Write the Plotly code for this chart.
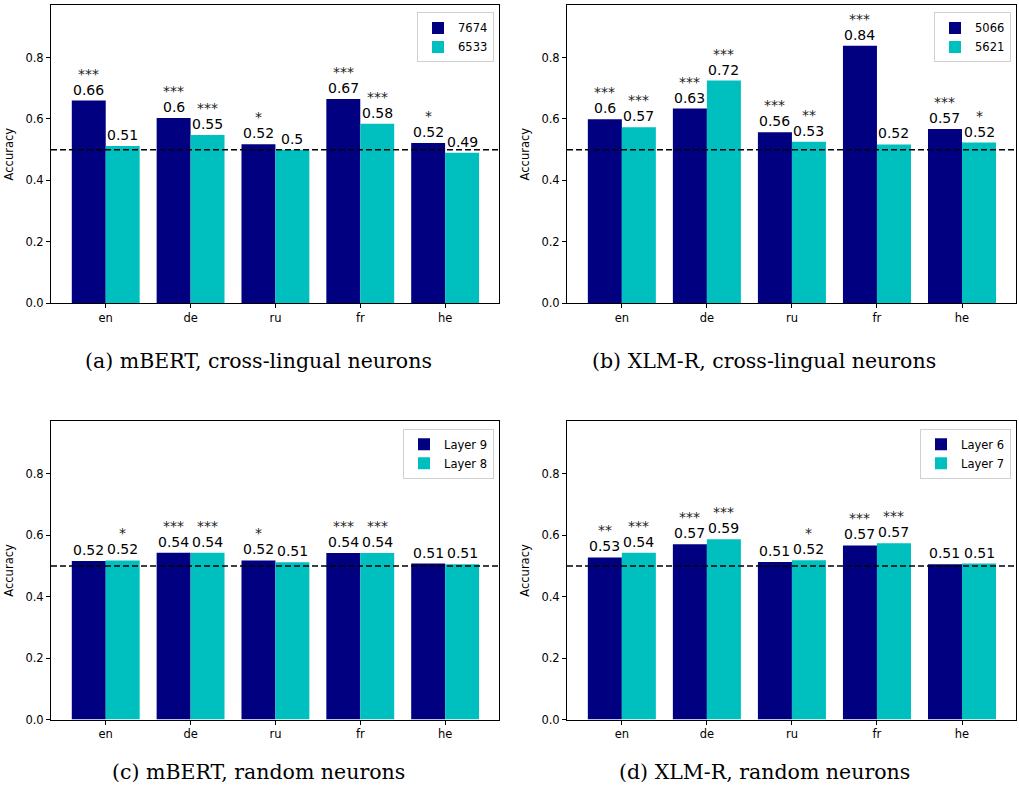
import plotly.graph_objects as go

W, H = 1019, 796

languages = ["en", "de", "ru", "fr", "he"]

# Panel (a) mBERT, cross-lingual neurons
a_names = ["7674", "6533"]
a_vals_1 = [0.660, 0.603, 0.518, 0.665, 0.522]
a_vals_2 = [0.512, 0.548, 0.500, 0.584, 0.490]
a_sig_1 = ["***", "***", "*", "***", "*"]
a_sig_2 = ["", "***", "", "***", ""]

# Panel (b) XLM-R, cross-lingual neurons
b_names = ["5066", "5621"]
b_vals_1 = [0.599, 0.634, 0.557, 0.838, 0.567]
b_vals_2 = [0.573, 0.725, 0.526, 0.517, 0.523]
b_sig_1 = ["***", "***", "***", "***", "***"]
b_sig_2 = ["***", "***", "**", "", "*"]

# Panel (c) mBERT, random neurons
c_names = ["Layer 9", "Layer 8"]
c_vals_1 = [0.516, 0.543, 0.518, 0.542, 0.508]
c_vals_2 = [0.518, 0.543, 0.512, 0.542, 0.506]
c_sig_1 = ["", "***", "*", "***", ""]
c_sig_2 = ["*", "***", "", "***", ""]

# Panel (d) XLM-R, random neurons
d_names = ["Layer 6", "Layer 7"]
d_vals_1 = [0.528, 0.571, 0.513, 0.567, 0.506]
d_vals_2 = [0.543, 0.587, 0.519, 0.574, 0.508]
d_sig_1 = ["**", "***", "", "***", ""]
d_sig_2 = ["***", "***", "*", "***", ""]

captions = ["(a) mBERT, cross-lingual neurons", "(b) XLM-R, cross-lingual neurons",
            "(c) mBERT, random neurons", "(d) XLM-R, random neurons"]

chance = 0.5

panels = [
    (a_names, a_vals_1, a_vals_2, a_sig_1, a_sig_2),
    (b_names, b_vals_1, b_vals_2, b_sig_1, b_sig_2),
    (c_names, c_vals_1, c_vals_2, c_sig_1, c_sig_2),
    (d_names, d_vals_1, d_vals_2, d_sig_1, d_sig_2),
]

NAVY = "#000080"
CYAN = "#00BFBF"

# pixel boxes of the four axes (left, right, top, bottom)
boxes = [(51, 499, 5, 306), (567, 1016, 5, 306),
         (51, 499, 425, 726), (567, 1016, 425, 726)]
cap_x = [258, 764, 258, 764]
cap_y = [364, 364, 779, 779]

fig = go.Figure()
annotations = []
shapes = []
layout = {}

FONT = "DejaVu Sans"

for i, (names, v1, v2, s1, s2) in enumerate(panels):
    n = i + 1
    xa = "x" if n == 1 else f"x{n}"
    ya = "y" if n == 1 else f"y{n}"
    lg = "legend" if n == 1 else f"legend{n}"
    for name, vals, color, sig, off in ((names[0], v1, NAVY, s1, -0.2), (names[1], v2, CYAN, s2, 0.2)):
        fig.add_trace(go.Bar(x=languages, y=vals, name=name, marker_color=color,
                             marker_line_width=0, xaxis=xa, yaxis=ya, legend=lg,
                             offsetgroup=name))
        for k, (lang, v) in enumerate(zip(languages, vals)):
            lab = f"{round(v, 2):g}"
            annotations.append(dict(x=k + off, y=v, xref=xa, yref=ya, text=lab,
                                    showarrow=False, yanchor="bottom", yshift=1,
                                    font=dict(family=FONT, size=14, color="black")))
            if sig[k]:
                annotations.append(dict(x=k + off, y=v, xref=xa, yref=ya, text=sig[k],
                                        showarrow=False, yanchor="bottom", yshift=17,
                                        font=dict(family=FONT, size=14, color="#222222")))
    l, r, t, b = boxes[i]
    xd = [l / W, r / W]
    yd = [1 - b / H, 1 - t / H]
    axkey = "xaxis" if n == 1 else f"xaxis{n}"
    aykey = "yaxis" if n == 1 else f"yaxis{n}"
    layout[axkey] = dict(domain=xd, anchor=ya, type="category", categoryorder="array",
                         categoryarray=languages, range=[-0.645, 4.635],
                         showline=True, mirror=True, linecolor="black", linewidth=1,
                         ticks="outside", ticklen=4, tickcolor="black", showgrid=False,
                         tickfont=dict(family=FONT, size=11.5, color="black"))
    layout[aykey] = dict(domain=yd, anchor=xa, range=[0, 0.971], tickvals=[0, 0.2, 0.4, 0.6, 0.8],
                         ticktext=["0.0", "0.2", "0.4", "0.6", "0.8"],
                         showline=True, mirror=True, linecolor="black", linewidth=1,
                         ticks="outside", ticklen=4, tickcolor="black", showgrid=False,
                         zeroline=False,
                         tickfont=dict(family=FONT, size=11.5, color="black"),
                         title=dict(text="Accuracy", standoff=9,
                                    font=dict(family=FONT, size=11.5, color="black")))
    layout[lg] = dict(x=(r - 5) / W, y=1 - (t + 7.5) / H, xanchor="right", yanchor="top",
                      xref="paper", yref="paper", bgcolor="white", bordercolor="#d0d0d0",
                      borderwidth=1, font=dict(family=FONT, size=11.5, color="black"),
                      tracegroupgap=0, itemsizing="constant")
    shapes.append(dict(type="line", xref=f"{xa} domain", yref=ya, x0=0, x1=1, y0=chance, y1=chance,
                       line=dict(color="black", width=1.5, dash="6px,3px"), layer="above"))
    annotations.append(dict(x=cap_x[i] / W, y=1 - cap_y[i] / H, xref="paper", yref="paper",
                            text=captions[i], showarrow=False, xanchor="center", yanchor="middle",
                            font=dict(family="DejaVu Serif", size=20.5, color="black")))

fig.update_layout(**layout)
fig.update_layout(width=W, height=H, margin=dict(l=0, r=0, t=0, b=0),
                  paper_bgcolor="white", plot_bgcolor="white",
                  barmode="group", bargap=0.2, bargroupgap=0,
                  annotations=annotations, shapes=shapes, showlegend=True)

fig.write_html("out.html", config={"displayModeBar": False},
               post_script="document.body.style.margin='0';document.body.style.overflow='hidden';")
